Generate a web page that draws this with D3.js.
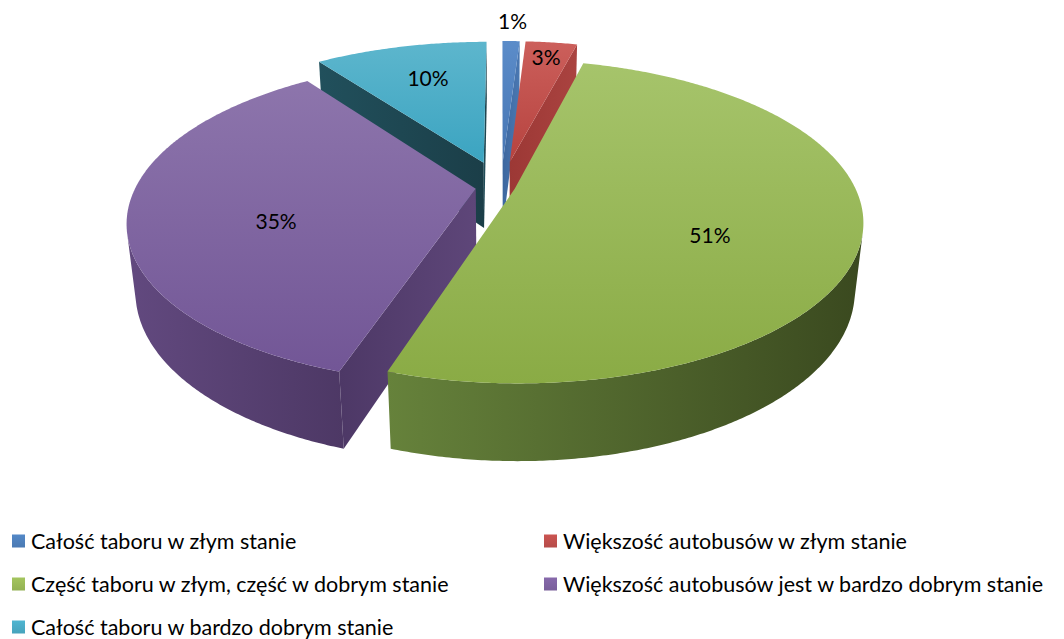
<!DOCTYPE html>
<html>
<head>
<meta charset="utf-8">
<script src="https://cdn.jsdelivr.net/npm/d3@7"></script>
<style>
  html, body { margin: 0; padding: 0; background: #ffffff; }
  svg { display: block; }
</style>
</head>
<body>
<svg id="chart" width="1064" height="639"></svg>
<script>
// ---- data ----
const categories = [
  "Całość taboru w złym stanie",
  "Większość autobusów w złym stanie",
  "Część taboru w złym, część w dobrym stanie",
  "Większość autobusów jest w bardzo dobrym stanie",
  "Całość taboru w bardzo dobrym stanie"
];
const shares = [1, 3, 51, 35, 10];
const valueLabels = ["1%", "3%", "51%", "35%", "10%"];

// ---- styling ----
const baseColors = ["#4f81bd", "#c0504d", "#9bbb59", "#8064a2", "#4bacc6"];
const topShades  = [["#5b8cc9", "#4675b3"], ["#cc5f5b", "#b6433f"], ["#a6c46b", "#8aab45"], ["#8d75ac", "#725696"], ["#5db6cd", "#3ba4c1"]];
const wallShades = [["#4672aa", "#365b8c"], ["#a8413e", "#8f3533"], ["#66823b", "#3a491f"], ["#62497f", "#4d3865"], ["#24525f", "#1b3f49"]];
const cutShades  = [["#3d679f", "#4a78b2"], ["#9c3835", "#aa4340"], ["#5f7a34", "#4f672b"], ["#4d3866", "#5e4679"], ["#21505c", "#1b3e48"]];
const explode     = [0.17, 0.17, 0.042, 0.075, 0.17];   // radial offset of each slice (pie radius = 1)
const labelRadius = [1.2, 0.85, 0.58, 0.585, 0.63];
const labelLift   = [0, 0, -0.068, -0.06, 0.025];

// ---- 3D view ----
const view = { cx: 501, cy: 187, scale: 340, tilt: 27 * Math.PI / 180, dist: 4.4, height: 0.225 };
const sinT = Math.sin(view.tilt), cosT = Math.cos(view.tilt);
const camera = [0, view.dist * sinT, view.dist * cosT];

const sx = d3.scaleLinear().domain([0, 1]).range([view.cx, view.cx + view.scale]);
const sy = d3.scaleLinear().domain([0, 1]).range([view.cy, view.cy + view.scale]);

// perspective projection of a world point (X right, Y up, Z toward viewer)
function project(X, Y, Z) {
  const up = Y * cosT - Z * sinT;
  const dv = Y * sinT + Z * cosT;
  const f = view.dist / (view.dist - dv);
  return [sx(X * f), sy(-up * f)];
}

const svg = d3.select("#chart");
const defs = svg.append("defs");
const line = d3.line().curve(d3.curveLinear);

const pie = d3.pie().sort(null).value(d => d).startAngle(0).endAngle(2 * Math.PI);
const arcs = pie(shares).map((a, i) => {
  const mid = (a.startAngle + a.endAngle) / 2;
  return {
    i, a0: a.startAngle, a1: a.endAngle, mid,
    ox: explode[i] * Math.sin(mid),
    oz: -explode[i] * Math.cos(mid)
  };
});

const Htop = 0, Hbot = -view.height;

function rim(s, th, Y) { return project(s.ox + Math.sin(th), Y, s.oz - Math.cos(th)); }
function apex(s, Y) { return project(s.ox, Y, s.oz); }
function samples(a0, a1) {
  const n = Math.max(2, Math.ceil((a1 - a0) / (Math.PI / 360)));
  return d3.range(n + 1).map(k => a0 + (a1 - a0) * k / n);
}
function faces(n, P) {
  return n[0] * (camera[0] - P[0]) + n[1] * (camera[1] - P[1]) + n[2] * (camera[2] - P[2]) > 0;
}

function gradient(id, c0, c1, x1, y1, x2, y2, user) {
  const g = defs.append("linearGradient").attr("id", id)
    .attr("x1", x1).attr("y1", y1).attr("x2", x2).attr("y2", y2);
  if (user) g.attr("gradientUnits", "userSpaceOnUse");
  g.append("stop").attr("offset", "0%").attr("stop-color", c0);
  g.append("stop").attr("offset", "100%").attr("stop-color", c1);
  return `url(#${id})`;
}

// paint slices from back to front
const order = arcs.slice().sort((p, q) => (-Math.cos(p.mid)) - (-Math.cos(q.mid)));
const gPie = svg.append("g");

order.forEach(s => {
  const g = gPie.append("g");
  const yMid = (Htop + Hbot) / 2;

  // outer wall: contiguous range facing the camera
  const ths = samples(s.a0, s.a1).filter(th =>
    faces([Math.sin(th), 0, -Math.cos(th)], [s.ox + Math.sin(th), yMid, s.oz - Math.cos(th)]));
  if (ths.length > 1) {
    const pts = ths.map(th => rim(s, th, Htop)).concat(ths.slice().reverse().map(th => rim(s, th, Hbot)));
    const xs = d3.extent(pts, p => p[0]);
    g.append("path")
      .attr("d", line(pts) + "Z")
      .attr("fill", gradient("wall" + s.i, wallShades[s.i][0], wallShades[s.i][1], xs[0], 0, xs[1], 0, true));
  }

  // radial cut faces
  [[s.a0, [-Math.cos(s.a0), 0, -Math.sin(s.a0)]], [s.a1, [Math.cos(s.a1), 0, Math.sin(s.a1)]]].forEach(([th, n], k) => {
    const c = [s.ox + 0.5 * Math.sin(th), yMid, s.oz - 0.5 * Math.cos(th)];
    if (!faces(n, c)) return;
    const pts = [apex(s, Htop), rim(s, th, Htop), rim(s, th, Hbot), apex(s, Hbot)];
    const xs = d3.extent(pts, p => p[0]);
    g.append("path")
      .attr("d", line(pts) + "Z")
      .attr("fill", gradient("cut" + s.i + "_" + k, cutShades[s.i][0], cutShades[s.i][1], xs[0], 0, xs[1], 0, true));
  });

  // top face
  const topPts = [apex(s, Htop)].concat(samples(s.a0, s.a1).map(th => rim(s, th, Htop)));
  g.append("path")
    .attr("d", line(topPts) + "Z")
    .attr("fill", gradient("top" + s.i, topShades[s.i][0], topShades[s.i][1], "0%", "0%", "0%", "100%", false));
});

// value labels
const fontFamily = "Lato, 'Open Sans', sans-serif";
svg.append("g").selectAll("text").data(arcs).join("text")
  .attr("transform", s => {
    const r = labelRadius[s.i];
    const p = project(s.ox + r * Math.sin(s.mid), labelLift[s.i], s.oz - r * Math.cos(s.mid));
    return `translate(${p[0]},${p[1]})`;
  })
  .attr("text-anchor", "middle")
  .attr("dy", "0.36em")
  .attr("font-family", fontFamily)
  .attr("font-size", 21)
  .attr("fill", "#000")
  .text(s => valueLabels[s.i]);

// legend
const legendCols = [12, 544];
const legendRows = [541, 584, 627];
const legend = svg.append("g").selectAll("g").data(categories).join("g")
  .attr("transform", (d, i) => `translate(${legendCols[i % 2]},${legendRows[Math.floor(i / 2)]})`);
legend.append("rect")
  .attr("x", 0).attr("y", -6.5).attr("width", 13).attr("height", 13)
  .attr("fill", (d, i) => gradient("key" + i, d3.color(baseColors[i]).brighter(0.15), d3.color(baseColors[i]).darker(0.15), "0%", "0%", "0%", "100%", false));
legend.append("text")
  .attr("x", 19).attr("dy", "0.36em")
  .attr("font-family", fontFamily)
  .attr("font-size", 21.5)
  .attr("fill", "#000")
  .text(d => d);
</script>
</body>
</html>
